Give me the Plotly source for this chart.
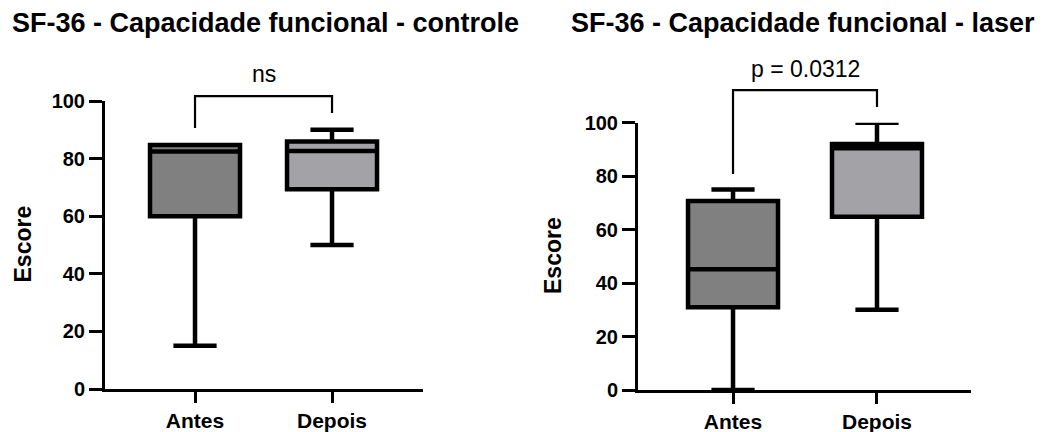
import plotly.graph_objects as go

W, H = 1054, 432

categories = ["Antes", "Depois"]
y_ticks = [0, 20, 40, 60, 80, 100]

# controle
ctrl_q1 = [60.0, 69.4]
ctrl_med = [82.5, 82.6]
ctrl_q3 = [84.7, 85.9]
ctrl_low = [15.0, 50.0]
ctrl_high = [84.7, 90.0]

# laser
laser_q1 = [31.0, 64.8]
laser_med = [45.2, 90.4]
laser_q3 = [70.7, 92.0]
laser_low = [0.0, 30.0]
laser_high = [75.0, 100.0]

fills = ["#808080", "#a3a3a7"]
titles = ["SF-36 - Capacidade funcional - controle", "SF-36 - Capacidade funcional - laser"]
stats_labels = ["ns", "p = 0.0312"]

# bracket heights (data units): horizontal, left leg bottom, right leg bottom
brackets = [(101.7, 90.6, 95.8), (112.2, 80.8, 105.9)]

FONT = "Liberation Sans, Arial, sans-serif"

fig = go.Figure()

panels = [
    dict(q1=ctrl_q1, med=ctrl_med, q3=ctrl_q3, lo=ctrl_low, hi=ctrl_high,
         xdom=[105 / W, 423 / W], ydom=[(H - 389) / H, (H - 101) / H],
         xr=[-0.657, 1.664], width=0.657, xa="x", ya="y"),
    dict(q1=laser_q1, med=laser_med, q3=laser_q3, lo=laser_low, hi=laser_high,
         xdom=[638 / W, 971 / W], ydom=[(H - 390) / H, (H - 122.7) / H],
         xr=[-0.66, 1.653], width=0.625, xa="x2", ya="y2"),
]

for p in panels:
    for i, cat in enumerate(categories):
        fig.add_trace(go.Box(
            x=[i], q1=[p["q1"][i]], median=[p["med"][i]], q3=[p["q3"][i]],
            lowerfence=[p["lo"][i]], upperfence=[p["hi"][i]],
            width=p["width"], whiskerwidth=0.48,
            fillcolor=fills[i], line=dict(color="black", width=4.5),
            boxpoints=False, hoverinfo="skip", showlegend=False,
            xaxis=p["xa"], yaxis=p["ya"],
        ))

axis_common = dict(showline=True, linecolor="black", linewidth=3, ticks="outside",
                   tickwidth=3, tickcolor="black", showgrid=False, zeroline=False,
                   automargin=False,
                   tickfont=dict(family=FONT, size=21, color="black", weight="bold"))

layout = dict(
    width=W, height=H, margin=dict(l=0, r=0, t=0, b=0),
    plot_bgcolor="white", paper_bgcolor="white", showlegend=False,
)
for k, p in enumerate(panels):
    sx = "" if k == 0 else "2"
    layout["xaxis" + sx] = dict(axis_common, domain=p["xdom"], range=p["xr"],
                                tickvals=[0, 1], ticktext=categories, ticklen=11,
                                anchor="y" + sx)
    layout["yaxis" + sx] = dict(axis_common, domain=p["ydom"], range=[0, 100],
                                tickvals=y_ticks, ticklen=13, anchor="x" + sx,
                                tickfont=dict(family=FONT, size=20, color="black", weight="bold"))
fig.update_layout(**layout)

def to_paper(v, ydom):
    return ydom[0] + v / 100.0 * (ydom[1] - ydom[0])

shapes = []
annotations = []
for k, p in enumerate(panels):
    h, l, r = brackets[k]
    pts = [(0, l), (0, h), (1, h), (1, r)]
    path = "M " + " L ".join(f"{x},{to_paper(y, p['ydom'])}" for x, y in pts)
    shapes.append(dict(type="path", path=path, xref=p["xa"], yref="paper",
                       line=dict(color="black", width=2.2)))
    annotations.append(dict(text=stats_labels[k], x=0.5, xref=p["xa"],
                            y=to_paper(h, p["ydom"]) + (22 if k == 0 else 21) / H,
                            yref="paper", yanchor="middle", showarrow=False,
                            font=dict(family=FONT, size=23, color="black")))

# titles
annotations.append(dict(text=titles[0], x=265 / W, y=(H - 23) / H, xref="paper", yref="paper",
                        xanchor="center", yanchor="middle", showarrow=False,
                        font=dict(family=FONT, size=27, color="black", weight="bold")))
annotations.append(dict(text=titles[1], x=802.5 / W, y=(H - 23) / H, xref="paper", yref="paper",
                        xanchor="center", yanchor="middle", showarrow=False,
                        font=dict(family=FONT, size=27, color="black", weight="bold")))
# y axis titles
annotations.append(dict(text="Escore", x=22.5 / W, y=(H - 244) / H, xref="paper", yref="paper",
                        textangle=-90, xanchor="center", yanchor="middle", showarrow=False,
                        font=dict(family=FONT, size=23, color="black", weight="bold")))
annotations.append(dict(text="Escore", x=553 / W, y=(H - 256) / H, xref="paper", yref="paper",
                        textangle=-90, xanchor="center", yanchor="middle", showarrow=False,
                        font=dict(family=FONT, size=23, color="black", weight="bold")))

fig.update_layout(shapes=shapes, annotations=annotations)
fig.write_html("out.html")
